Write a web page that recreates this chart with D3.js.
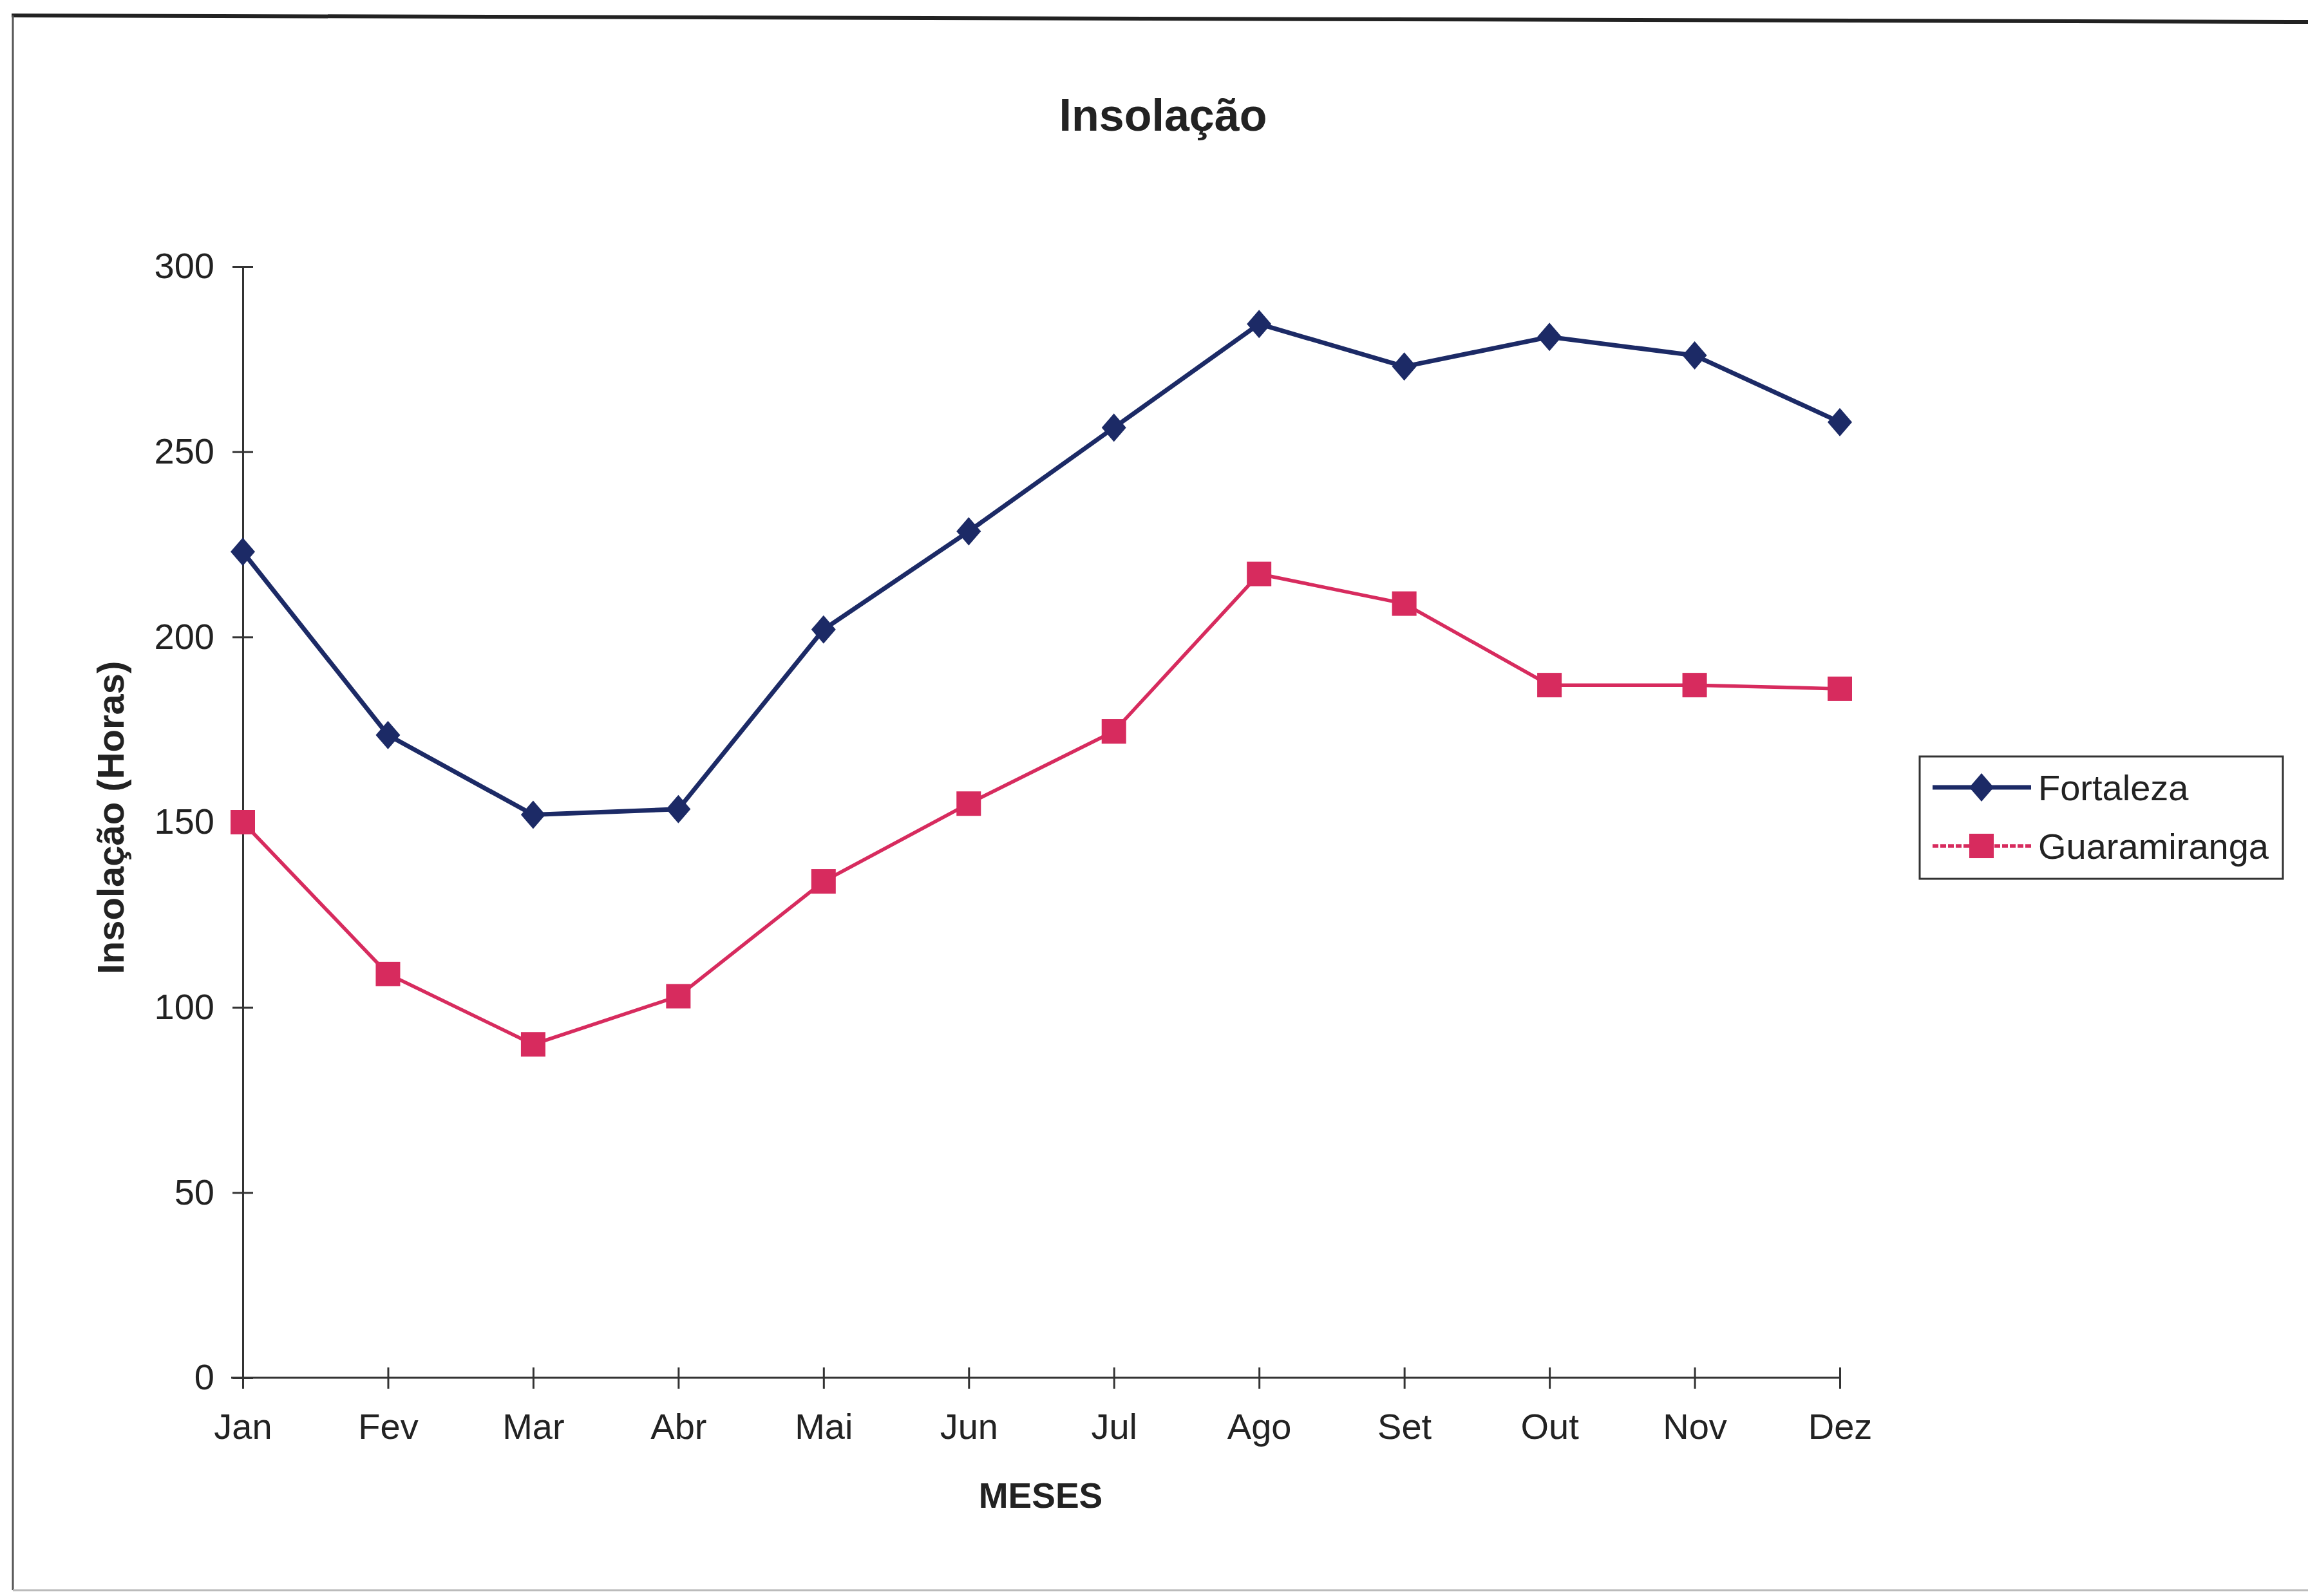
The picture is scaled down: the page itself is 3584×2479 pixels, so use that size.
<!DOCTYPE html>
<html>
<head>
<meta charset="utf-8">
<script src="https://cdn.jsdelivr.net/npm/d3@7"></script>
<style>
  html, body { margin: 0; padding: 0; background: #fff; }
  svg { display: block; }
  text { font-family: "Liberation Sans", Arial, sans-serif; fill: #222; }
</style>
</head>
<body>
<script>
// Monthly sunshine hours (insolação) for two stations in Ceará
const months = ["Jan", "Fev", "Mar", "Abr", "Mai", "Jun", "Jul", "Ago", "Set", "Out", "Nov", "Dez"];
const fortaleza = [223, 173.5, 152, 153.5, 202, 228.5, 256.5, 284.5, 273, 281, 276, 258];
const guaramiranga = [150, 109, 90, 103, 134, 155, 174.5, 217, 209, 187, 187, 186];
const yTicks = [0, 50, 100, 150, 200, 250, 300];
const seriesNames = ["Fortaleza", "Guaramiranga"];

const W = 3584, H = 2479;
const svg = d3.select("body").append("svg").attr("width", W).attr("height", H);

// chart frame
svg.append("line").attr("x1", 18).attr("y1", 24).attr("x2", W).attr("y2", 34)
  .attr("stroke", "#222").attr("stroke-width", 6);
svg.append("line").attr("x1", 20).attr("y1", 24).attr("x2", 20).attr("y2", 2470)
  .attr("stroke", "#555").attr("stroke-width", 3);
svg.append("line").attr("x1", 20).attr("y1", 2470).attr("x2", W).attr("y2", 2470)
  .attr("stroke", "#bbb").attr("stroke-width", 3);

const x = d3.scalePoint().domain(months).range([377, 2857]);
const y = d3.scaleLinear().domain([0, 300]).range([2140, 414]);

// axes
const yAxis = d3.axisLeft(y).tickValues(yTicks).tickSize(16).tickPadding(28);
const gy = svg.append("g").attr("transform", `translate(${x(months[0])},0)`).call(yAxis);
gy.select(".domain").attr("stroke", "#333").attr("stroke-width", 3);
gy.selectAll(".tick line").attr("stroke", "#333").attr("stroke-width", 3).attr("x2", -16).attr("x1", 16);
gy.selectAll(".tick text").attr("font-size", 56).attr("fill", "#2a2a2a")
  .style("font-family", '"Liberation Sans", Arial, sans-serif');

const xAxis = d3.axisBottom(x).tickSize(17).tickPadding(38);
const gx = svg.append("g").attr("transform", `translate(0,${y(0)})`).call(xAxis);
gx.select(".domain").attr("stroke", "#333").attr("stroke-width", 3)
  .attr("d", `M${x(months[0]) - 18},0H${x(months[11])}`);
gx.selectAll(".tick line").attr("stroke", "#333").attr("stroke-width", 3).attr("y1", -16).attr("y2", 17);
gx.selectAll(".tick text").attr("font-size", 56).attr("fill", "#2a2a2a")
  .style("font-family", '"Liberation Sans", Arial, sans-serif');

// titles
svg.append("text").attr("x", 1806).attr("y", 203).attr("text-anchor", "middle")
  .attr("font-size", 70).attr("font-weight", "bold").text("Insolação");
svg.append("text").attr("x", 1616).attr("y", 2342).attr("text-anchor", "middle")
  .attr("font-size", 55).attr("font-weight", "bold").text("MESES");
svg.append("text").attr("transform", "translate(192,1270) rotate(-90)")
  .attr("text-anchor", "middle").attr("font-size", 58).attr("font-weight", "bold")
  .text("Insolação (Horas)");

const colors = ["#1c2a66", "#d72b5e"];
const lineGen = d3.line().x((d, i) => x(months[i])).y(d => y(d));
const diamond = (cx, cy) => `M${cx},${cy - 22}L${cx + 19},${cy}L${cx},${cy + 22}L${cx - 19},${cy}Z`;

// Fortaleza
svg.append("path").datum(fortaleza).attr("d", lineGen)
  .attr("fill", "none").attr("stroke", colors[0]).attr("stroke-width", 7);
svg.append("g").selectAll("path").data(fortaleza).join("path")
  .attr("d", (d, i) => diamond(x(months[i]), y(d))).attr("fill", colors[0]);

// Guaramiranga
svg.append("path").datum(guaramiranga).attr("d", lineGen)
  .attr("fill", "none").attr("stroke", colors[1]).attr("stroke-width", 5.5);
svg.append("g").selectAll("rect").data(guaramiranga).join("rect")
  .attr("x", (d, i) => x(months[i]) - 19).attr("y", d => y(d) - 19)
  .attr("width", 38).attr("height", 38).attr("fill", colors[1]);

// legend
const lg = svg.append("g");
lg.append("rect").attr("x", 2981).attr("y", 1175).attr("width", 564).attr("height", 190)
  .attr("fill", "#fff").attr("stroke", "#333").attr("stroke-width", 3);
const ly = [1223, 1314];
seriesNames.forEach((name, k) => {
  lg.append("line").attr("x1", 3001).attr("x2", 3154).attr("y1", ly[k]).attr("y2", ly[k])
    .attr("stroke", colors[k]).attr("stroke-width", k === 0 ? 7 : 5.5)
    .attr("stroke-dasharray", k === 0 ? null : "9 3");
  if (k === 0) {
    lg.append("path").attr("d", diamond(3077, ly[k])).attr("fill", colors[k]);
  } else {
    lg.append("rect").attr("x", 3058).attr("y", ly[k] - 19).attr("width", 38).attr("height", 38)
      .attr("fill", colors[k]);
  }
  lg.append("text").attr("x", 3165).attr("y", ly[k] + 20).attr("font-size", 56)
    .attr("fill", "#2a2a2a").text(name);
});
</script>
</body>
</html>
